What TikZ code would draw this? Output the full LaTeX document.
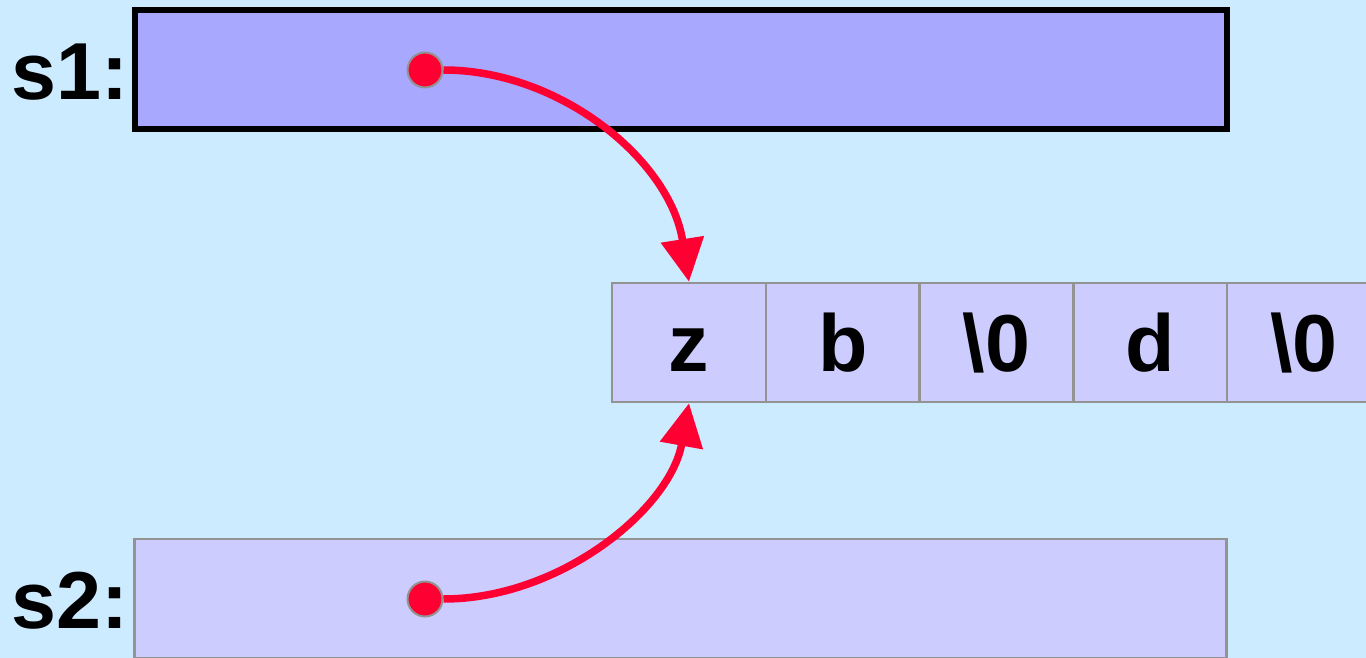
\documentclass[tikz,border=0pt]{standalone}
\usepackage{fontspec}
\setmainfont{Liberation Sans}
\usetikzlibrary{arrows.meta,positioning}
\definecolor{Sky}{HTML}{CCEBFF}
\definecolor{Lilac}{HTML}{A8A8FF}
\definecolor{Pale}{HTML}{CCCCFF}
\definecolor{Frame}{HTML}{939393}
\definecolor{Ptr}{HTML}{FF0033}

\begin{document}
\begin{tikzpicture}[x=0.02cm,y=-0.02cm,
  big/.style={font=\fontsize{46}{50}\selectfont\bfseries},
  var/.style={draw=Frame,fill=Pale,line width=0.05cm,minimum width=21.84cm,minimum height=2.38cm,inner sep=0pt},
  cell/.style={draw=Frame,fill=Pale,line width=0.05cm,minimum width=3.08cm,minimum height=2.38cm,inner sep=0pt,big,text height=1.18cm,text depth=0pt},
  dot/.style={circle,draw=Frame,fill=Ptr,line width=0.04cm,minimum size=0.7cm,inner sep=0pt},
  ptr/.style={draw=Ptr,line width=0.15cm,-{Triangle[length=0.86cm,width=0.84cm]}}
]
\fill[Sky] (0,0) rectangle (1366,658);
\useasboundingbox (0,0) rectangle (1366,658);
\node[var,draw=black,fill=Lilac,line width=0.12cm] (s1) at (681,69.5) {};
\node[var] (s2) at (680.5,598.5) {};
\node[big,anchor=base east] (s1lbl) at (135,100) {s1:};
\node[big,anchor=base east] (s2lbl) at (135,628) {s2:};
\foreach \ch [count=\i from 0] in {z,b,\textbackslash 0,d,\textbackslash 0}
  \node[cell] (c\i) at (689+153.75*\i,342.5) {\ch};
\node[dot] (p1) at (425,70) {};
\node[dot] (p2) at (425,599) {};
\draw[ptr] (p1) .. controls (560,70) and (670,160) .. (c0.north);
\draw[ptr] (p2) .. controls (560,599) and (670,509) .. (c0.south);
\end{tikzpicture}
\end{document}
